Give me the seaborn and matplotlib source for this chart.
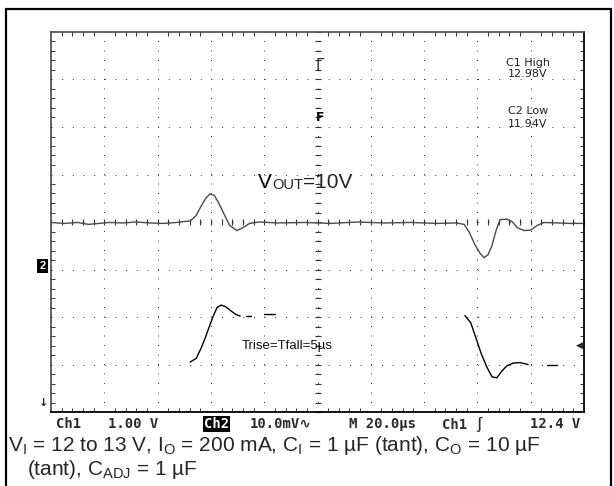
import matplotlib
matplotlib.use("Agg")
import matplotlib.pyplot as plt
import pandas as pd
import seaborn as sns
from matplotlib.lines import Line2D
from matplotlib.ticker import MultipleLocator

# --- scope data (time in us, ch2 in mV around its baseline, ch1 in V) ---
ch2_t = [0, 5, 10, 14, 18, 22, 27, 32, 37, 42, 47, 50, 52.2, 54.5, 56.5, 58.2,
         59.7, 61.3, 63, 65, 67, 69.8, 72, 74.5, 78, 85, 95, 105, 115, 125, 135,
         145, 152, 155, 157, 159, 161, 162.5, 164, 165.5, 167, 168.5, 171, 173,
         175, 177.5, 180, 182.5, 185, 190, 195, 200]
ch2_mv = [-0.1, -0.3, -0.1, -0.5, -0.3, -0.1, -0.2, 0.0, -0.2, -0.3, -0.1, 0.1,
          0.2, 1.4, 3.5, 5.1, 5.9, 5.6, 3.9, 1.6, -0.7, -1.8, -1.2, -0.3, 0.0,
          -0.2, -0.1, -0.3, 0.0, -0.2, -0.1, -0.3, -0.2, -0.5, -2.2, -4.7, -6.6,
          -7.5, -6.9, -4.9, -1.8, 0.5, 0.6, 0.1, -1.2, -1.8, -1.7, -0.7, -0.1,
          -0.2, -0.3, -0.3]

# ch1 is only visible on the edges, so it is kept as separate pieces
ch1_t = [52.2, 54.5, 56.3, 57.8, 59.3, 60.8, 62.3, 63.8, 65.5, 67.5, 69.5, 71,
         73, 75,
         80, 84,
         155.3, 157.5, 159.5, 161.5, 163.5, 165.5, 167.3, 169, 171, 173.5, 176, 179,
         186, 190]
ch1_v = [12.05, 12.13, 12.34, 12.55, 12.78, 13.01, 13.2, 13.25, 13.22, 13.13, 13.05, 13.02,
         13.02, 13.02,
         13.06, 13.06,
         13.03, 12.88, 12.55, 12.22, 11.95, 11.74, 11.72, 11.85, 11.97, 12.03, 12.04, 12.0,
         12.0, 12.0]
ch1_piece = [0] * 12 + [1] * 2 + [2] * 2 + [3] * 12 + [4] * 2

ch2_mv_per_div = 10.0
ch1_v_per_div = 1.0
ch1_offset_v = 15.0
trigger_level_v = 12.4
ch2_ground_div = -0.92

ch2_df = pd.DataFrame({"t": ch2_t, "div": [v / ch2_mv_per_div for v in ch2_mv]})
ch1_df = pd.DataFrame({
    "t": ch1_t,
    "div": [(v - ch1_offset_v) / ch1_v_per_div for v in ch1_v],
    "piece": ch1_piece,
})

W, H = 614, 486


def fx(px):
    return px / W


def fy(py):
    return 1 - py / H


sns.set_style("white")
plt.rcParams["font.family"] = ["Liberation Sans", "DejaVu Sans"]
plt.rcParams["mathtext.default"] = "regular"

fig = plt.figure(figsize=(W / 100, H / 100), dpi=100)
left, right, top, bottom = 51, 584, 32, 412
ax = fig.add_axes([fx(left), fy(bottom), (right - left) / W, (bottom - top) / H])

sns.lineplot(data=ch2_df, x="t", y="div", ax=ax, color="#4a4a4a",
             linewidth=1.0, estimator=None, sort=False, legend=False)
sns.lineplot(data=ch1_df, x="t", y="div", units="piece", ax=ax, color="black",
             linewidth=1.0, estimator=None, sort=False, legend=False)

ax.set_xlim(0, 200)
ax.set_ylim(-4, 4)
ax.set_xlabel("")
ax.set_ylabel("")
ax.xaxis.set_major_locator(MultipleLocator(20))
ax.yaxis.set_major_locator(MultipleLocator(1))
ax.xaxis.set_minor_locator(MultipleLocator(4))
ax.yaxis.set_minor_locator(MultipleLocator(0.2))
ax.tick_params(which="major", length=0, labelbottom=False, labelleft=False)
ax.tick_params(which="minor", direction="in", length=3, width=0.7, color="#333333",
               top=True, right=True, bottom=True, left=True)

# dotted graticule, one dot every fifth of a division
ax.xaxis.grid(True, color="#3a3a3a", linewidth=0.72, linestyle=(0, (1, 8.5)))
ax.yaxis.grid(True, color="#3a3a3a", linewidth=0.72, linestyle=(0, (1, 9.66)))
for side, sp in ax.spines.items():
    sp.set_color("#555555" if side in ("left", "top") else "black")
    sp.set_linewidth(1.3)

# centre axes with their small ticks
cx = ax.secondary_xaxis(0.5)
cx.xaxis.set_major_locator(MultipleLocator(20))
cx.xaxis.set_minor_locator(MultipleLocator(4))
cx.tick_params(which="both", direction="inout", length=4.5, width=0.8, color="#333333",
               labeltop=False, labelbottom=False)
cy = ax.secondary_yaxis(0.5)
cy.yaxis.set_major_locator(MultipleLocator(1))
cy.yaxis.set_minor_locator(MultipleLocator(0.2))
cy.tick_params(which="both", direction="inout", length=4.5, width=0.8, color="#333333",
               labelleft=False, labelright=False)
for c in (cx, cy):
    for sp in c.spines.values():
        sp.set_visible(False)

# on-screen readouts
readout = dict(fontsize=8, color="#222222", ha="center", va="center",
               family=["DejaVu Sans"])
ax.text(179, 3.35, "C1 High", **readout)
ax.text(179, 3.12, "12.98V", **readout)
ax.text(179, 2.34, "C2 Low", **readout)
ax.text(179, 2.07, "11.94V", **readout)
ax.text(99.4, 3.3, "\u0393", fontsize=11, color="#333333", ha="left", va="center",
        family=["DejaVu Sans"])
ax.text(99.4, 2.2, "F", fontsize=9, color="black", ha="left", va="center",
        family=["DejaVu Sans"], fontweight="bold")

v = ax.text(77.7, 0.64, "V", fontsize=15, color="black", ha="left", va="bottom")
o = ax.annotate("OUT", xy=(1, 0), xycoords=v, fontsize=10.5, ha="left", va="bottom")
ax.annotate("=10V", xy=(1, 0), xycoords=o, fontsize=15, ha="left", va="bottom")
ax.text(71.7, -2.62, "Trise=Tfall=5\u00b5s", fontsize=9.5, color="#111111",
        ha="left", va="center")

ytr = ax.get_yaxis_transform()
ax.text(-0.016, ch2_ground_div, "2", transform=ytr, fontsize=8, color="white",
        fontweight="bold", ha="center", va="center",
        bbox=dict(facecolor="black", edgecolor="none", pad=1.5))
ax.text(-0.014, -3.82, "\u2193", transform=ytr, fontsize=8, fontweight="bold",
        ha="center", va="center", family=["DejaVu Sans"])
ax.text(0.998, (trigger_level_v - ch1_offset_v) / ch1_v_per_div, "\u25c0",
        transform=ytr, fontsize=6.5, ha="right", va="center", family=["DejaVu Sans"])

# scope status line under the screen
status = dict(fontsize=10, color="#2a2a2a", va="center", fontweight="bold",
              family=["DejaVu Sans Mono", "DejaVu Sans"])
sy = fy(424)
fig.text(fx(56), sy, "Ch1", **status)
fig.text(fx(108), sy, "1.00 V", **status)
fig.text(fx(204), sy, "Ch2", **{**status, "color": "white"},
         bbox=dict(facecolor="black", edgecolor="none", pad=0.8))
fig.text(fx(250), sy, "10.0mV\u223f", **status)
fig.text(fx(349), sy, "M 20.0\u00b5s", **status)
fig.text(fx(442), sy, "Ch1 \u222b", **status)
fig.text(fx(530), sy, "12.4 V", **status)

# caption
cap = dict(fontsize=15, ha="left", va="center")
fig.text(fx(8), fy(445), "V$_{I}$ = 12 to 13 V, I$_{O}$ = 200 mA, C$_{I}$ = 1 \u00b5F (tant), "
         "C$_{O}$ = 10 \u00b5F", **cap)
fig.text(fx(27), fy(469), "(tant), C$_{ADJ}$ = 1 \u00b5F", **cap)

# outer frame of the figure panel
frame = dict(color="black", linewidth=1.6)
fig.add_artist(Line2D([fx(6), fx(6)], [fy(H), fy(9)], **frame))
fig.add_artist(Line2D([fx(6), fx(611)], [fy(9), fy(9)], **frame))
fig.add_artist(Line2D([fx(611), fx(611)], [fy(9), fy(H)], **frame))

fig.savefig("out.png", dpi=100)
plt.close(fig)
